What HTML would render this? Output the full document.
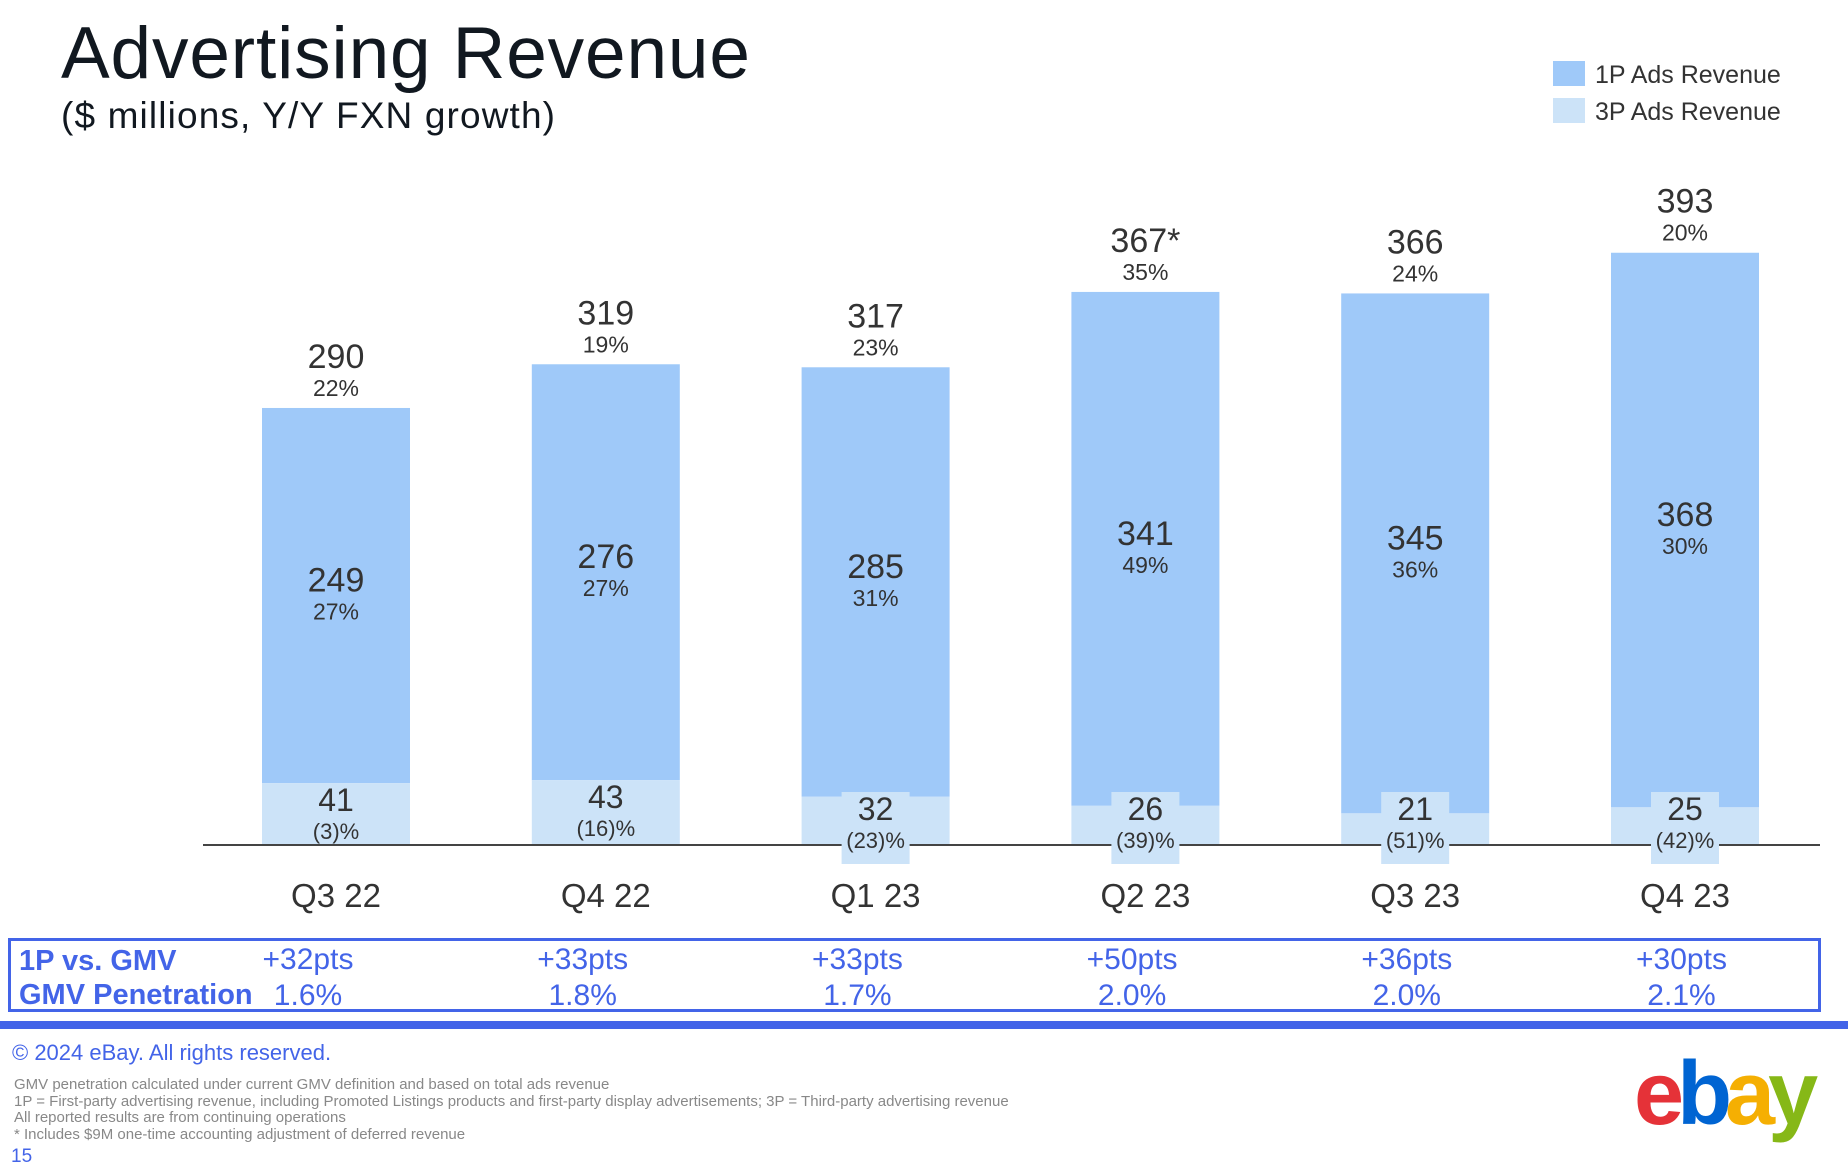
<!DOCTYPE html>
<html><head><meta charset="utf-8"><style>
html,body{margin:0;padding:0;background:#fff;}
svg{display:block;font-family:"Liberation Sans",sans-serif;}
</style></head><body>
<svg id="chart" width="1848" height="1170" viewBox="0 0 1848 1170">
<text x="61" y="78" font-size="73" fill="#111820" textLength="689">Advertising Revenue</text>
<text x="61" y="128" font-size="37" fill="#111820" textLength="494">($ millions, Y/Y FXN growth)</text>
<g>
<rect x="1553" y="61" width="32" height="25" fill="#9fc9f9"/>
<text x="1595" y="83" font-size="25" fill="#333">1P Ads Revenue</text>
<rect x="1553" y="98" width="32" height="25" fill="#cce3f8"/>
<text x="1595" y="120" font-size="25" fill="#333">3P Ads Revenue</text>
</g>
<g id="bars"></g>
<line x1="203" y1="845" x2="1820" y2="845" stroke="#444" stroke-width="2"/>
<g id="labels"></g>
<rect x="9.5" y="939.5" width="1810" height="71" fill="none" stroke="#4364e8" stroke-width="3"/>
<text x="19" y="970" font-size="29" font-weight="bold" fill="#4364e8">1P vs. GMV</text>
<text x="19" y="1004" font-size="29" font-weight="bold" fill="#4364e8">GMV Penetration</text>
<g id="gmv"></g>
<rect x="0" y="1021" width="1848" height="8" fill="#4364e8"/>
<text x="12" y="1060" font-size="22" fill="#4364e8">© 2024 eBay. All rights reserved.</text>
<g font-size="15" fill="#888">
<text x="14" y="1089">GMV penetration calculated under current GMV definition and based on total ads revenue</text>
<text x="14" y="1106">1P = First-party advertising revenue, including Promoted Listings products and first-party display advertisements; 3P = Third-party advertising revenue</text>
<text x="14" y="1122">All reported results are from continuing operations</text>
<text x="14" y="1139">* Includes $9M one-time accounting adjustment of deferred revenue</text>
</g>
<text x="11" y="1162" font-size="19" fill="#4364e8">15</text>
<text x="1634" y="1124" font-size="90" font-weight="bold" letter-spacing="-7"><tspan fill="#e53238">e</tspan><tspan fill="#0064d2">b</tspan><tspan fill="#f5af02">a</tspan><tspan fill="#86b817">y</tspan></text>
</svg>
<script>
const categories=["Q3 22","Q4 22","Q1 23","Q2 23","Q3 23","Q4 23"];
const onePValues=[249,276,285,341,345,368];
const threePValues=[41,43,32,26,21,25];
const totalLabels=["290","319","317","367*","366","393"];
const totalValues=[290,319,317,367,366,393];
const totalGrowth=["22%","19%","23%","35%","24%","20%"];
const onePGrowth=["27%","27%","31%","49%","36%","30%"];
const threePGrowth=["(3)%","(16)%","(23)%","(39)%","(51)%","(42)%"];
const vsGmv=["+32pts","+33pts","+33pts","+50pts","+36pts","+30pts"];
const penetration=["1.6%","1.8%","1.7%","2.0%","2.0%","2.1%"];

const NS="http://www.w3.org/2000/svg";
const baseY=845, pxPerUnit=1.507, x0=336, step=269.8, barW=148;
const gx0=308, gstep=274.7;
function xC(i){return x0+i*step;}
function yV(v){return baseY-v*pxPerUnit;}
function mk(tag,attrs,parent,text){const e=document.createElementNS(NS,tag);for(const k in attrs)e.setAttribute(k,attrs[k]);if(text!==undefined)e.textContent=text;parent.appendChild(e);return e;}
const gb=document.getElementById('bars'), gl=document.getElementById('labels'), gg=document.getElementById('gmv');
categories.forEach((c,i)=>{
  const cx=xC(i), t3=yV(threePValues[i]), t1=yV(threePValues[i]+onePValues[i]);
  const r1=mk('rect',{x:cx-barW/2,y:t1,width:barW,height:t3-t1,fill:'#9fc9f9'},gb);
  
  
  const r3=mk('rect',{x:cx-barW/2,y:t3,width:barW,height:baseY-t3,fill:'#cce3f8'},gb);
  
  
  const tt=yV(totalValues[i]);
  const a=mk('text',{x:cx,y:tt-40,'font-size':34,fill:'#333','text-anchor':'middle'},gl,totalLabels[i]);
  
  
  const b=mk('text',{x:cx,y:tt-12,'font-size':23,fill:'#333','text-anchor':'middle'},gl,totalGrowth[i]);
  
  
  const mid=(t1+t3)/2;
  const d=mk('text',{x:cx,y:mid-4,'font-size':34,fill:'#333','text-anchor':'middle'},gl,String(onePValues[i]));
  
  
  const e=mk('text',{x:cx,y:mid+24,'font-size':23,fill:'#333','text-anchor':'middle'},gl,onePGrowth[i]);
  
  
  const bt=Math.min(t3,792);
  if(t3>bt+1){
    const bg=mk('rect',{x:cx-34,y:bt,width:68,height:72,fill:'#cce3f8'},gl);
    
    
  }
  const f=mk('text',{x:cx,y:bt+28,'font-size':32,fill:'#333','text-anchor':'middle'},gl,String(threePValues[i]));
  
  
  const g=mk('text',{x:cx,y:bt+56,'font-size':22,fill:'#333','text-anchor':'middle'},gl,threePGrowth[i]);
  
  
  const h=mk('text',{x:cx,y:907,'font-size':33,fill:'#333','text-anchor':'middle'},gl,c);
  
  
  const gx=gx0+i*gstep;
  const p=mk('text',{x:gx,y:969,'font-size':30,fill:'#4364e8','text-anchor':'middle'},gg,vsGmv[i]);
  
  
  const q=mk('text',{x:gx,y:1005,'font-size':30,fill:'#4364e8','text-anchor':'middle'},gg,penetration[i]);
  
  
});
</script>
</body></html>
